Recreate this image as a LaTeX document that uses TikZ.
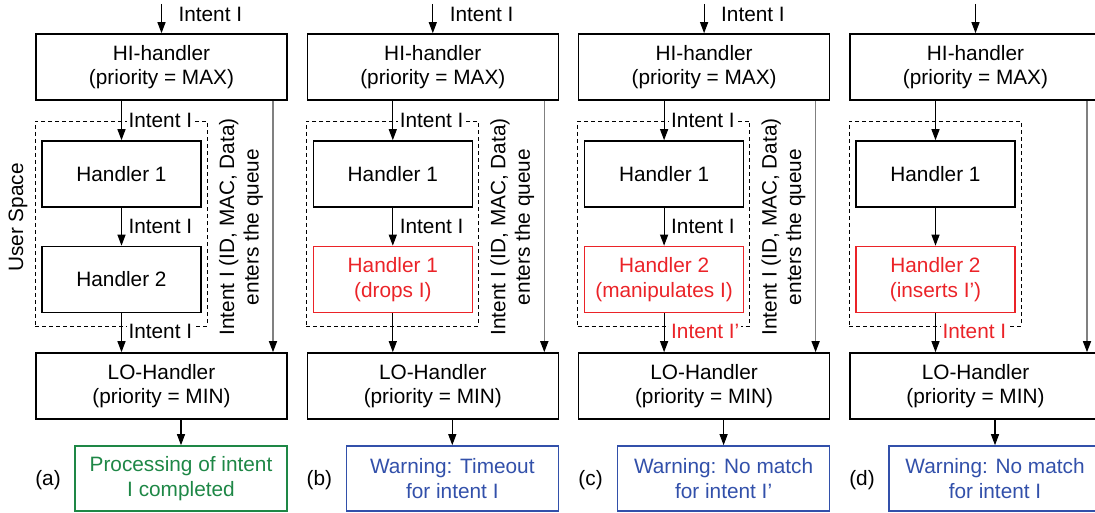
\documentclass[tikz,border=0pt]{standalone}
\usepackage{fontspec}
\setmainfont{Liberation Sans}
\usetikzlibrary{arrows.meta}
\definecolor{okgreen}{RGB}{30,135,70}
\definecolor{warnblue}{RGB}{50,80,170}
\definecolor{errred}{RGB}{235,35,40}

\begin{document}
\begin{tikzpicture}[
    x=1pt, y=-1pt,
    line width=1.1pt,
    >={Triangle[length=11pt,width=8pt]},
    every node/.style={
        font=\fontsize{20.8}{24.5}\selectfont,
        align=center,
        inner sep=0pt
    },
    bigbox/.style={draw, line width=1.6pt, minimum width=251pt, minimum height=66pt},
    handler/.style={draw, line width=1.6pt, minimum width=159pt, minimum height=66pt},
    result/.style={draw, line width=1.6pt, minimum width=212pt, minimum height=65pt},
    frame/.style={draw, line width=0.9pt, dash pattern=on 4pt off 3pt, minimum width=172pt, minimum height=205pt},
    lbl/.style={anchor=west, fill=white, inner xsep=2pt, inner ysep=1pt},
    queue/.style={draw=gray, line width=1.5pt, -{Triangle[length=11pt,width=8pt,color=black]}}
]
\useasboundingbox (0,0) rectangle (1095,513);

% 네 개의 패널 (공통 부분)
\foreach \p/\dx/\htxt/\hcol/\rtxt/\rcol in {
    a/0/{Handler 2}/black/{Processing of intent\\I completed}/okgreen,
    b/271.3/{Handler 1\\(drops I)}/errred/{Warning: Timeout\\for intent I}/warnblue,
    c/542.6/{Handler 2\\(manipulates I)}/errred/{Warning: No match\\for intent I’}/warnblue,
    d/814/{Handler 2\\(inserts I’)}/errred/{Warning: No match\\for intent I}/warnblue}{
\begin{scope}[xshift=\dx]
\node[frame] (us\p) at (121,223.5) {};
\node[bigbox] (hi\p) at (161.5,67) {HI-handler\\(priority = MAX)};
\node[handler] (ha\p) at (121.5,174) {Handler 1};
\node[handler, draw=\hcol, text=\hcol] (hb\p) at (121.5,279.5) {\htxt};
\node[bigbox] (lo\p) at (161.5,386) {LO-Handler\\(priority = MIN)};
\node[result, draw=\rcol, text=\rcol] (res\p) at (181,478.5) {\rtxt};
\node (tag\p) at (48,480) {(\p)};
\coordinate (in\p) at (161.5,4);
\coordinate (q\p) at (273,0);

% 간선
\draw[->] (in\p) -- (hi\p);
\draw[->] (ha\p.north |- hi\p.south) -- (ha\p);
\draw[->] (ha\p) -- (hb\p);
\draw[->] (hb\p) -- (hb\p |- lo\p.north);
\draw[->] (res\p |- lo\p.south) -- (res\p);
\draw[queue] (hi\p.south -| q\p) -- (lo\p.north -| q\p);
\end{scope}
}

% 화살표 라벨 (a, b, c)
\foreach \p/\dx in {a/0, b/271.3, c/542.6}{
\begin{scope}[xshift=\dx]
\node[lbl] (li\p) at (176,14) {Intent I};
\node[lbl] (lt\p) at (126,120.5) {Intent I};
\node[lbl] (lm\p) at (126,226) {Intent I};
\node[rotate=90] (qt\p) at (241,227) {Intent I (ID, MAC, Data)\\enters the queue};
\end{scope}
}

% 아래쪽 라벨
\foreach \p/\dx/\col/\txt in {a/0/black/{Intent I}, c/542.6/errred/{Intent I’}, d/814/errred/{Intent I}}{
\begin{scope}[xshift=\dx]
\node[lbl, text=\col] (lb\p) at (126,331.5) {\txt};
\end{scope}
}

\node[rotate=90] (user) at (18,217.5) {User Space};

\end{tikzpicture}
\end{document}
